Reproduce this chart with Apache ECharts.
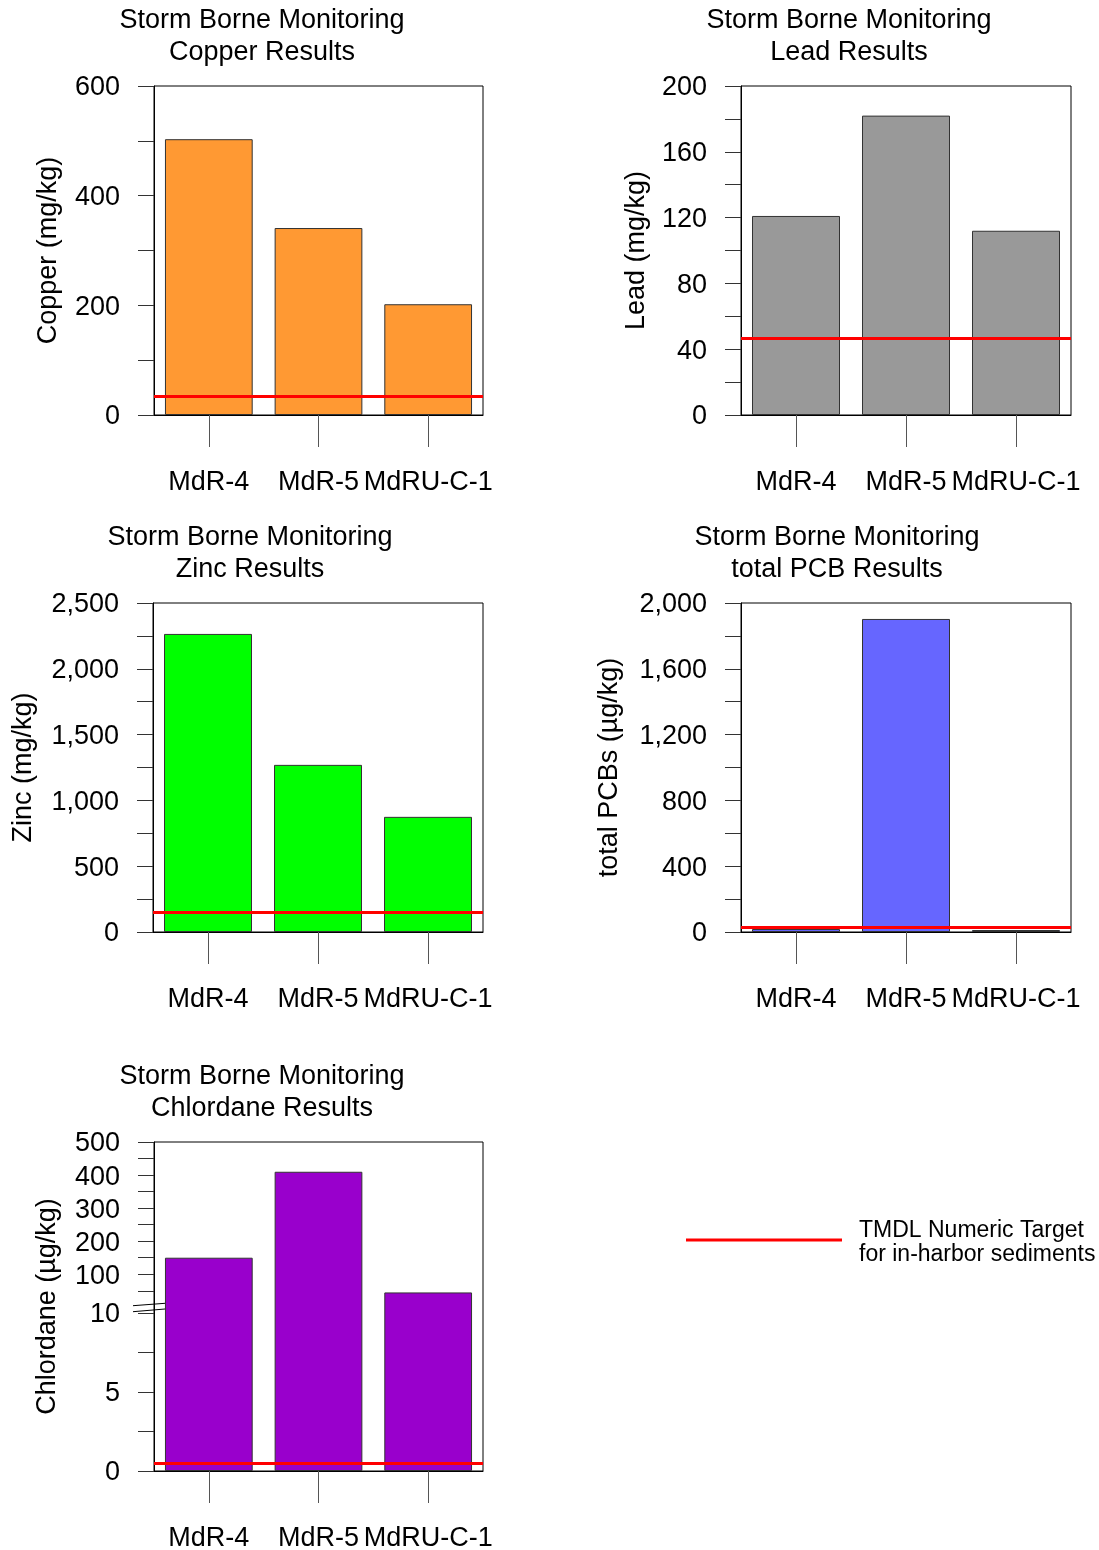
<!DOCTYPE html>
<html>
<head>
<meta charset="utf-8">
<script src="https://cdn.jsdelivr.net/npm/echarts@6/dist/echarts.min.js"></script>
<style>
html,body{margin:0;padding:0;background:#fff;}
#chart{width:1099px;height:1550px;}
</style>
</head>
<body>
<div id="chart"></div>
<script>
// ---- data ----
const categories = ['MdR-4', 'MdR-5', 'MdRU-C-1'];
const copperValues = [503, 341, 202];
const leadValues = [121, 182, 112];
const zincValues = [2265, 1270, 875];
const pcbValues = [18, 1903, 12];
const chlordaneValues = [150, 410, 45];

const copperTarget = 34;
const leadTarget = 46.7;
const zincTarget = 150;
const pcbTarget = 28;
const chlordaneTarget = 0.5;

const chlordaneLabelValues = [0, 5, 10, 100, 200, 300, 400, 500];
const chlordaneTickValues = [0, 2.5, 5, 7.5, 10, 50, 100, 150, 200, 250, 300, 350, 400, 450, 500];

const legendText = ['TMDL Numeric Target', 'for in-harbor sediments'];

// ---- broken axis mapping for chlordane (lower 0-10, upper 10-500) ----
const LOWER_SPAN = 158, BREAK_GAP = 9, UPPER_SPAN = 162;
function chl(v) {
  return v <= 10 ? v * LOWER_SPAN / 10 : LOWER_SPAN + BREAK_GAP + (v - 10) * UPPER_SPAN / 490;
}
function chlLabel(pos) {
  for (const v of chlordaneLabelValues) if (Math.abs(chl(v) - pos) < 0.01) return String(v);
  return '';
}

const FONT = '"Liberation Sans", Arial, Helvetica, sans-serif';
const panels = [
  {title: 'Copper Results', name: 'Copper (mg/kg)', vals: copperValues, target: copperTarget, color: '#FF9933',
   grid: {left: 154, top: 86, width: 329, height: 329}, max: 600, interval: 100, labelStep: 200, nameGap: 92, tx: 262, ty: 21},
  {title: 'Lead Results', name: 'Lead (mg/kg)', vals: leadValues, target: leadTarget, color: '#999999',
   grid: {left: 741, top: 86, width: 330, height: 329}, max: 200, interval: 20, labelStep: 40, nameGap: 91, tx: 849, ty: 21},
  {title: 'Zinc Results', name: 'Zinc (mg/kg)', vals: zincValues, target: zincTarget, color: '#00FF00',
   grid: {left: 153, top: 603, width: 330, height: 329}, max: 2500, interval: 250, labelStep: 500, nameGap: 116, tx: 250, ty: 538},
  {title: 'total PCB Results', name: 'total PCBs (µg/kg)', vals: pcbValues, target: pcbTarget, color: '#6666FF',
   grid: {left: 741, top: 603, width: 330, height: 329}, max: 2000, interval: 200, labelStep: 400, nameGap: 118, tx: 837, ty: 538},
  {title: 'Chlordane Results', name: 'Chlordane (µg/kg)', vals: chlordaneValues, target: chlordaneTarget, color: '#9900CC',
   grid: {left: 154, top: 1142, width: 329, height: 329}, broken: true, nameGap: 93, tx: 262, ty: 1077}
];

const grids = [], xAxes = [], yAxes = [], series = [], graphics = [];
panels.forEach((p, i) => {
  grids.push(Object.assign({show: true, borderColor: '#000', borderWidth: 1, backgroundColor: '#fff',
    containLabel: false, outerBoundsMode: 'none'}, p.grid));
  xAxes.push({
    type: 'category', gridIndex: i, data: categories,
    axisLine: {show: true, lineStyle: {color: '#000', width: 1}},
    axisTick: {show: true, alignWithLabel: true, length: 32, lineStyle: {color: '#555'}},
    axisLabel: {interval: 0, margin: 54, fontSize: 27, color: '#000', fontFamily: FONT, hideOverlap: false},
    splitLine: {show: false}
  });
  const y = {
    type: 'value', gridIndex: i, min: 0,
    name: p.name, nameLocation: 'middle', nameGap: p.nameGap, nameRotate: 90,
    nameTextStyle: {fontSize: 27, color: '#000', fontFamily: FONT},
    axisLine: {show: true, lineStyle: {color: '#000', width: 1}},
    axisTick: {show: true, length: 16, lineStyle: {color: '#333'}},
    splitLine: {show: false},
    axisLabel: {margin: 34, fontSize: 27, color: '#000', fontFamily: FONT, verticalAlign: 'top', lineHeight: 4}
  };
  let data = p.vals, targetPos = p.target;
  if (p.broken) {
    y.max = chl(500);
    y.axisTick.customValues = chlordaneTickValues.map(chl);
    y.axisLabel.customValues = chlordaneLabelValues.map(chl);
    y.axisLabel.formatter = chlLabel;
    data = p.vals.map(chl);
    targetPos = chl(p.target);
  } else {
    y.max = p.max; y.interval = p.interval;
    const step = p.labelStep;
    y.axisLabel.formatter = v => (Math.abs(v % step) < 1e-9 ? v.toLocaleString('en-US') : '');
  }
  yAxes.push(y);
  series.push({
    type: 'bar', xAxisIndex: i, yAxisIndex: i, data: data, barCategoryGap: '20%',
    itemStyle: {color: p.color, borderColor: '#333', borderWidth: 1},
    silent: true,
    markLine: {
      silent: true, symbol: 'none', label: {show: false},
      lineStyle: {color: '#FF0000', width: 3, type: 'solid'},
      data: [{yAxis: targetPos}]
    }
  });
  graphics.push({type: 'text', x: p.tx, y: p.ty, style: {text: 'Storm Borne Monitoring', font: '27px ' + FONT,
    fill: '#000', textAlign: 'center', textVerticalAlign: 'middle'}});
  graphics.push({type: 'text', x: p.tx, y: p.ty + 32, style: {text: p.title, font: '27px ' + FONT,
    fill: '#000', textAlign: 'center', textVerticalAlign: 'middle'}});
});

// break marks on the chlordane axis
graphics.push({type: 'line', shape: {x1: 133, y1: 1305.7, x2: 165, y2: 1303.3}, style: {stroke: '#000', lineWidth: 1}, z: 10});
graphics.push({type: 'line', shape: {x1: 133, y1: 1311.7, x2: 165, y2: 1309}, style: {stroke: '#000', lineWidth: 1}, z: 10});

// legend
graphics.push({type: 'line', shape: {x1: 686, y1: 1240, x2: 842, y2: 1240}, style: {stroke: '#FF0000', lineWidth: 3}});
graphics.push({type: 'text', x: 859, y: 1231, style: {text: legendText[0], font: '23px ' + FONT, fill: '#000', textAlign: 'left', textVerticalAlign: 'middle'}});
graphics.push({type: 'text', x: 859, y: 1255, style: {text: legendText[1], font: '23px ' + FONT, fill: '#000', textAlign: 'left', textVerticalAlign: 'middle'}});

const chart = echarts.init(document.getElementById('chart'), null, {renderer: 'canvas'});
chart.setOption({
  backgroundColor: '#fff',
  animation: false,
  grid: grids, xAxis: xAxes, yAxis: yAxes, series: series,
  graphic: graphics
});
</script>
</body>
</html>
